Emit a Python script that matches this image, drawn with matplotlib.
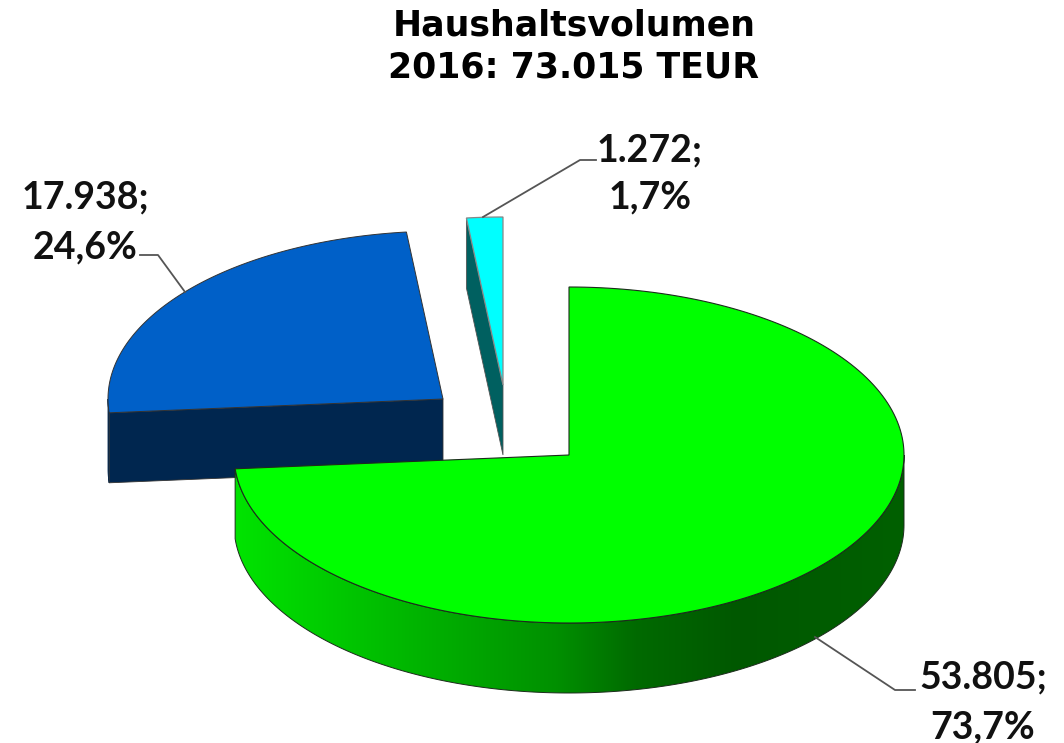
from matplotlib import pyplot as plt
from matplotlib.colors import LinearSegmentedColormap
from matplotlib.patches import Polygon
import numpy as np

values = [53805, 17938, 1272]
value_labels = ['53.805;', '17.938;', '1.272;']
percent_labels = ['73,7%', '24,6%', '1,7%']
title_lines = ['Haushaltsvolumen', '2016: 73.015 TEUR']

# geometry in pixels of the picture
rx, ry, depth = 335, 168, 70
centers = [(569, 455), (443, 399), (503, 385)]


def rim(center, a0, a1, n=200):
    # angles clockwise from 12 o'clock
    t = np.radians(np.linspace(a0, a1, n))
    return np.column_stack((center[0] + rx * np.sin(t), center[1] - ry * np.cos(t)))


def top_face(center, a0, a1):
    return np.vstack(([center], rim(center, a0, a1)))


def shifted(points):
    return points + np.array([0, depth])


fig = plt.figure(figsize=(10.64, 7.43), dpi=100)
ax = fig.add_axes((0, 0, 1, 1))
ax.axis('off')

sweeps = np.array(values) / sum(values) * 360
starts = np.concatenate(([0], np.cumsum(sweeps)[:-1]))
ends = starts + sweeps
edge = '#1c2b1c'

# blue slice
c = centers[1]
r = rim(c, starts[1], min(ends[1], 270))
ax.add_patch(Polygon(np.vstack((r, shifted(r)[::-1])), fc='#00264f', ec='#00264f', lw=0.6))
p0 = rim(c, starts[1], starts[1], 1)[0]
face = np.array([p0, c, shifted(np.array([c]))[0], shifted(np.array([p0]))[0]])
ax.add_patch(Polygon(face, fc='#00264f', ec='#333333', lw=0.6))
ax.add_patch(Polygon(top_face(c, starts[1], ends[1]), fc='#0060c8', ec='#333333', lw=0.7))

# cyan slice
c = centers[2]
p0 = rim(c, starts[2], starts[2], 1)[0]
face = np.array([p0, c, shifted(np.array([c]))[0], shifted(np.array([p0]))[0]])
ax.add_patch(Polygon(face, fc='#006060', ec='#555555', lw=0.6))
ax.add_patch(Polygon(top_face(c, starts[2], ends[2]), fc='#00ffff', ec='#888888', lw=0.9))

# green slice, side wall with gradient
c = centers[0]
r = rim(c, 90, ends[0])
side = Polygon(np.vstack((r, shifted(r)[::-1])), fc='none', ec=edge, lw=0.7)
ax.add_patch(side)
cmap = LinearSegmentedColormap.from_list('side', [
    (0.0, '#006000'), (0.25, '#005800'), (0.40, '#006a00'), (0.52, '#009000'),
    (0.75, '#00b800'), (1.0, '#00e400')], N=1024)
grad = np.linspace(0, 1, 1024)[::-1].reshape(1, -1)
im = ax.imshow(grad, cmap=cmap, extent=(c[0] - rx, c[0] + rx, c[1] + ry + depth, c[1]),
               aspect='auto', zorder=1, interpolation='bilinear')
im.set_clip_path(side)
side.set_zorder(1.5)
top = Polygon(top_face(c, starts[0], ends[0]), fc='#00ff00', ec=edge, lw=0.8, zorder=2)
ax.add_patch(top)

# leader lines
leaders = [([815, 895, 915], [637, 690, 690]),
           ([185, 158, 140], [292, 255, 255]),
           ([483, 580, 596], [217, 160, 160])]
for xs, ys in leaders:
    ax.plot(xs, ys, color='#555555', lw=1.3, zorder=3)

label_x = [983, 85, 650]
label_y = [(677, 727), (197, 247), (150, 197)]
for i in range(3):
    ax.text(label_x[i], label_y[i][0], value_labels[i], family='Lato', weight='bold', fontsize=27,
            ha='center', va='center', color='#111111')
    ax.text(label_x[i], label_y[i][1], percent_labels[i], family='Lato', weight='bold', fontsize=27,
            ha='center', va='center', color='#111111')

ax.text(574, 25, title_lines[0], family='DejaVu Sans', weight='bold', fontsize=25, ha='center', va='center', color='black')
ax.text(574, 68, title_lines[1], family='DejaVu Sans', weight='bold', fontsize=25, ha='center', va='center', color='black')

ax.set_xlim(0, 1064)
ax.set_ylim(743, 0)
fig.savefig('out.png', dpi=100)
